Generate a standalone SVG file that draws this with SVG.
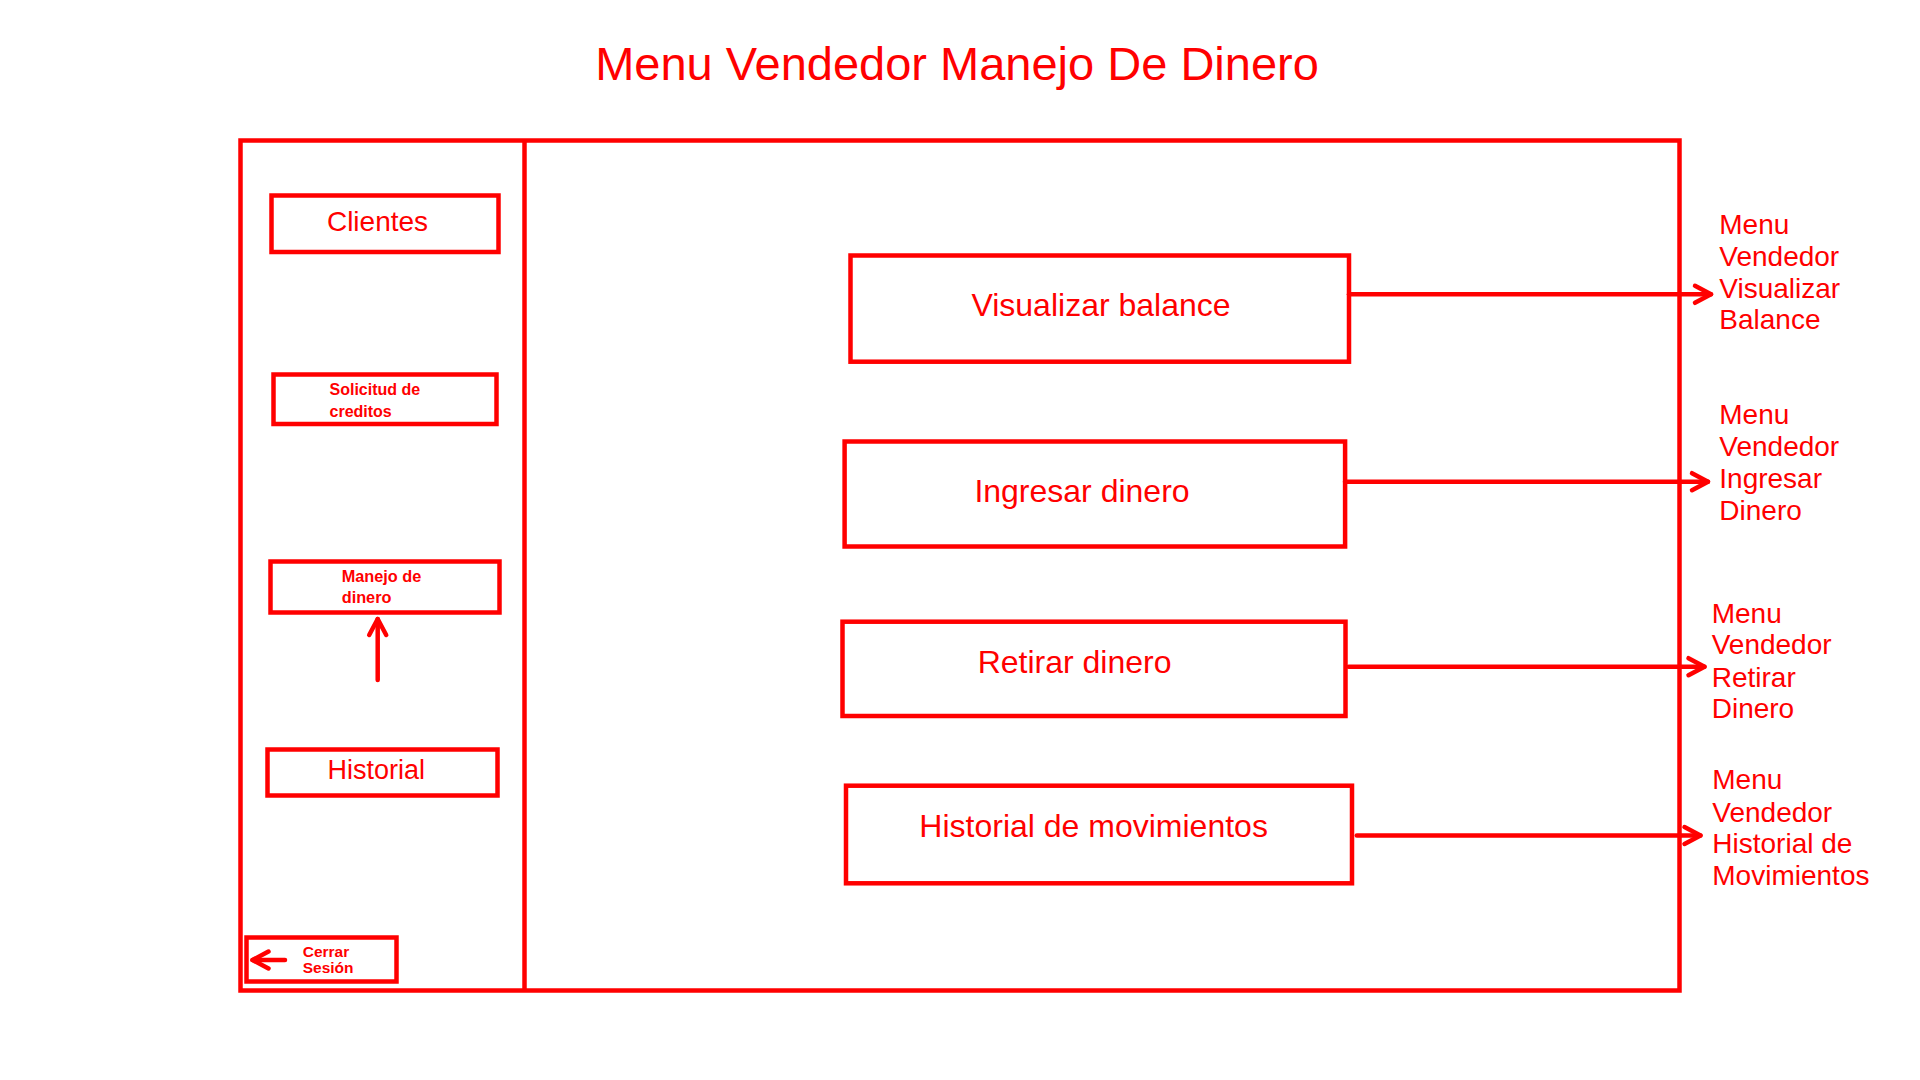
<svg xmlns="http://www.w3.org/2000/svg" width="1920" height="1080" viewBox="0 0 1920 1080">
  <style>
    .box{fill:#ffffff;stroke:#ff0000;stroke-width:4.5}
    .frame{fill:none;stroke:#ff0000;stroke-width:4.5}
    .t{font-family:"Liberation Sans",Arial,sans-serif;fill:#ff0000}
    .b{font-weight:bold}
    .conn{fill:none;stroke:#ff0000;stroke-width:4.5;stroke-linecap:round}
    .head{fill:none;stroke:#ff0000;stroke-width:4.5;stroke-linecap:round;stroke-linejoin:round}
  </style>
  <defs>
    <marker id="chev" markerUnits="userSpaceOnUse" viewBox="-24 -14 28 28" refX="0" refY="0" markerWidth="28" markerHeight="28" orient="auto" overflow="visible">
      <path d="M-16,-8.5 L0,0 L-16,8.5" class="head"/>
    </marker>
  </defs>
  <rect width="1920" height="1080" fill="#ffffff"/>

  <text class="t" x="957" y="79.5" font-size="47" text-anchor="middle">Menu Vendedor Manejo De Dinero</text>

  <g id="frame">
    <rect class="frame" x="240.5" y="140.5" width="1439" height="850"/>
    <line class="frame" x1="524.5" y1="140.5" x2="524.5" y2="990.5"/>
  </g>

  <g id="clientes">
    <rect class="box" x="271.5" y="195.5" width="227" height="56.5"/>
    <text class="t" x="377.5" y="231" font-size="28" text-anchor="middle">Clientes</text>
  </g>
  <g id="solicitud">
    <rect class="box" x="273.5" y="374.5" width="223" height="49.5"/>
    <text class="t b" font-size="16"><tspan x="329.5" y="395">Solicitud de</tspan><tspan x="329.5" y="416.7">creditos</tspan></text>
  </g>
  <g id="manejo">
    <rect class="box" x="270.5" y="561.5" width="229" height="51"/>
    <text class="t b" font-size="16.3"><tspan x="341.7" y="581.7">Manejo de</tspan><tspan x="341.7" y="603.3">dinero</tspan></text>
  </g>
  <g id="historial">
    <rect class="box" x="267.5" y="749.5" width="230" height="46"/>
    <text class="t" x="376.3" y="779" font-size="27" text-anchor="middle">Historial</text>
  </g>
  <g id="cerrar">
    <rect class="box" x="246.5" y="937.5" width="150" height="44"/>
    <text class="t b" font-size="15.5"><tspan x="302.7" y="957.3">Cerrar</tspan><tspan x="302.7" y="973.3">Sesión</tspan></text>
  </g>

  <g id="visualizar">
    <rect class="box" x="850.5" y="255.5" width="498.5" height="106.2"/>
    <text class="t" x="1101" y="316" font-size="32" text-anchor="middle">Visualizar balance</text>
  </g>
  <g id="ingresar">
    <rect class="box" x="844.6" y="441.5" width="500.5" height="105"/>
    <text class="t" x="1082" y="502.3" font-size="32" text-anchor="middle">Ingresar dinero</text>
  </g>
  <g id="retirar">
    <rect class="box" x="842.5" y="621.7" width="503" height="94.3"/>
    <text class="t" x="1074.6" y="672.7" font-size="32" text-anchor="middle">Retirar dinero</text>
  </g>
  <g id="movimientos">
    <rect class="box" x="846" y="785.7" width="506" height="97.6"/>
    <text class="t" x="1093.6" y="837.3" font-size="32" text-anchor="middle">Historial de movimientos</text>
  </g>

  <g id="labels" class="t" font-size="28">
    <text><tspan x="1719.3" y="234">Menu</tspan><tspan x="1719.3" y="265.7">Vendedor</tspan><tspan x="1719.3" y="297.7">Visualizar</tspan><tspan x="1719.3" y="329.3">Balance</tspan></text>
    <text><tspan x="1719.3" y="424">Menu</tspan><tspan x="1719.3" y="456">Vendedor</tspan><tspan x="1719.3" y="487.7">Ingresar</tspan><tspan x="1719.3" y="520">Dinero</tspan></text>
    <text><tspan x="1711.7" y="622.7">Menu</tspan><tspan x="1711.7" y="654">Vendedor</tspan><tspan x="1711.7" y="686.7">Retirar</tspan><tspan x="1711.7" y="718.3">Dinero</tspan></text>
    <text><tspan x="1712.3" y="789.3">Menu</tspan><tspan x="1712.3" y="821.7">Vendedor</tspan><tspan x="1712.3" y="853.3">Historial de</tspan><tspan x="1712.3" y="885">Movimientos</tspan></text>
  </g>

  <g id="connectors">
    <line class="conn" x1="1349" y1="294.3" x2="1711" y2="294.3" marker-end="url(#chev)"/>
    <line class="conn" x1="1345" y1="481.7" x2="1708" y2="481.7" marker-end="url(#chev)"/>
    <line class="conn" x1="1348.6" y1="666.7" x2="1704.5" y2="666.7" marker-end="url(#chev)"/>
    <line class="conn" x1="1356.8" y1="835.5" x2="1700.5" y2="835.5" marker-end="url(#chev)"/>
    <line class="conn" x1="377.7" y1="680" x2="377.7" y2="619" marker-end="url(#chev)"/>
    <line class="conn" x1="285" y1="960" x2="252.5" y2="960" marker-end="url(#chev)"/>
  </g>
</svg>
